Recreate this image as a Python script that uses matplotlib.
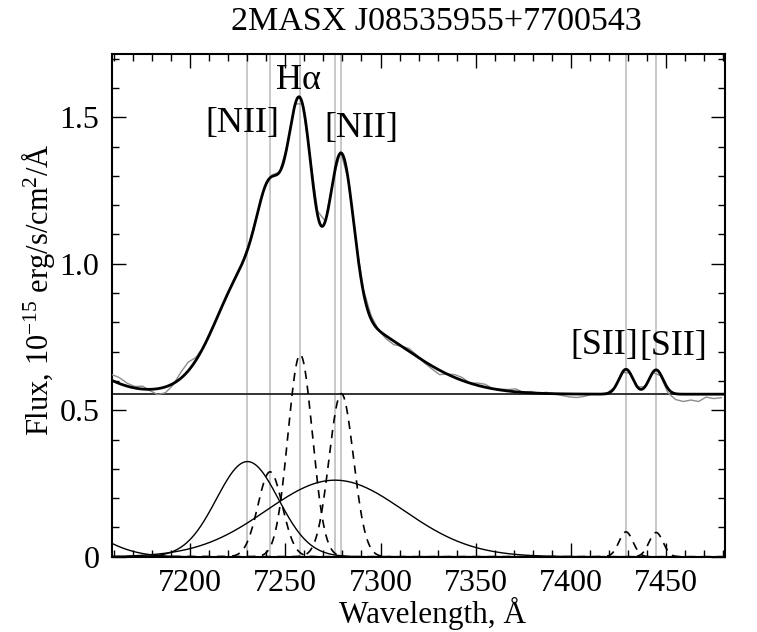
import numpy as np
import matplotlib
matplotlib.use('Agg')
import matplotlib.pyplot as plt
from matplotlib.ticker import MultipleLocator, FixedLocator, FixedFormatter

plt.rcParams['font.family'] = ['Liberation Serif', 'DejaVu Serif']
plt.rcParams['mathtext.fontset'] = 'custom'
plt.rcParams['mathtext.rm'] = 'Liberation Serif'
plt.rcParams['mathtext.it'] = 'Liberation Serif:italic'
plt.rcParams['mathtext.default'] = 'regular'

# fitted components
continuum = 0.555
broad_centers = [7128.5, 7230.1, 7276.1]
broad_amps = [0.131, 0.325, 0.2615]
broad_sigmas = [21.0, 16.3, 36.0]
narrow_centers = [7242.0, 7257.8, 7279.4, 7428.9, 7444.7]
narrow_amps = [0.29, 0.69, 0.557, 0.085, 0.083]
narrow_sigmas = [6.4, 6.4, 6.4, 3.66, 3.66]

# observed spectrum: residuals around the fit, every 4 A from 7159
resid = [0.02, 0.02, 0.01, 0.005, 0.01, -0.005, -0.02, -0.02, -0.005, 0.02,
         0.03, 0.01, 0.0, 0.005, 0.0, 0.0, 0.0, 0.0, 0.005, 0.0,
         0.0, 0.005, 0.0, 0.0, 0.005, 0.0, 0.005, 0.015, 0.0, 0.0,
         0.005, 0.0, 0.0, 0.01, 0.012, 0.0, -0.01, -0.012, 0.0, 0.01,
         0.005, -0.005, -0.01, -0.015, 0.0, 0.01, 0.01, 0.0, 0.008, 0.01,
         0.0, 0.003, 0.005, 0.01, 0.0, 0.005, 0.0, 0.004, 0.0, -0.005,
         -0.01, -0.012, -0.008, 0.0, 0.0, 0.002, 0.0, 0.0, 0.0, 0.0,
         0.0, 0.0, -0.005, -0.015, -0.02, -0.025, -0.02, -0.025, -0.01, -0.015,
         -0.012]

labels = ['[NII]', 'H\u03b1', '[NII]', '[SII]', '[SII]']
label_x = [7227.6, 7256.7, 7290.1, 7417.4, 7453.6]
label_y = [1.478, 1.624, 1.461, 0.722, 0.718]


def gauss(x, c, a, s):
    return a * np.exp(-(x - c) ** 2 / (2 * s ** 2))


def total(x):
    x = np.asarray(x, dtype=float)
    y = np.full_like(x, continuum)
    for c, a, s in zip(broad_centers, broad_amps, broad_sigmas):
        y += gauss(x, c, a, s)
    for c, a, s in zip(narrow_centers, narrow_amps, narrow_sigmas):
        y += gauss(x, c, a, s)
    return y


wave = np.linspace(7159, 7481, 1500)
obs_wave = 7159.0 + 4.0 * np.arange(len(resid))
obs_flux = total(obs_wave) + np.array(resid)

fig = plt.figure(figsize=(7.57, 6.32), dpi=100)
ax = fig.add_axes([0.148, 0.119, 0.810, 0.796])

for c in broad_centers[1:] + narrow_centers:
    ax.axvline(c, color='#c4c4c4', lw=1.3, zorder=1)
ax.axhline(continuum, color='#333333', lw=1.4, zorder=2)

for c, a, s in zip(broad_centers, broad_amps, broad_sigmas):
    ax.plot(wave, gauss(wave, c, a, s), color='black', lw=1.0, zorder=3)
for c, a, s in zip(narrow_centers, narrow_amps, narrow_sigmas):
    ax.plot(wave, gauss(wave, c, a, s), color='black', lw=1.2,
            ls=(0, (5, 4)), zorder=3)

ax.plot(obs_wave, obs_flux, color='#8c8c8c', lw=1.0, zorder=4)
ax.plot(wave, total(wave), color='black', lw=2.0, zorder=5)

for t, x, y in zip(labels, label_x, label_y):
    ax.text(x, y, t, ha='center', va='center', fontsize=26, zorder=6)

ax.set_xlim(7159, 7481)
ax.set_ylim(0, 1.717)
ax.xaxis.set_major_locator(MultipleLocator(50))
ax.xaxis.set_minor_locator(MultipleLocator(10))
ax.yaxis.set_major_locator(FixedLocator([0, 0.5, 1.0, 1.5]))
ax.yaxis.set_major_formatter(FixedFormatter(['0', '0.5', '1.0', '1.5']))
ax.yaxis.set_minor_locator(MultipleLocator(0.1))
ax.tick_params(which='both', direction='in', top=True, right=True,
               labelsize=23, width=1.0)
ax.tick_params(which='major', length=10, pad=9)
ax.tick_params(which='minor', length=5)
for sp in ax.spines.values():
    sp.set_linewidth(1.5)

ax.set_xlabel('Wavelength, \u00c5', fontsize=22.5)
ax.xaxis.set_label_coords(0.522, -0.08)
ax.set_ylabel('Flux, 10$^{-15}$ erg/s/cm$^2$/\u00c5', fontsize=22)
ax.yaxis.set_label_coords(-0.09, 0.53)
fig.text(0.576, 0.965, '2MASX J08535955+7700543', fontsize=24.5,
         ha='center', va='center')

fig.savefig('out.png', dpi=100)
